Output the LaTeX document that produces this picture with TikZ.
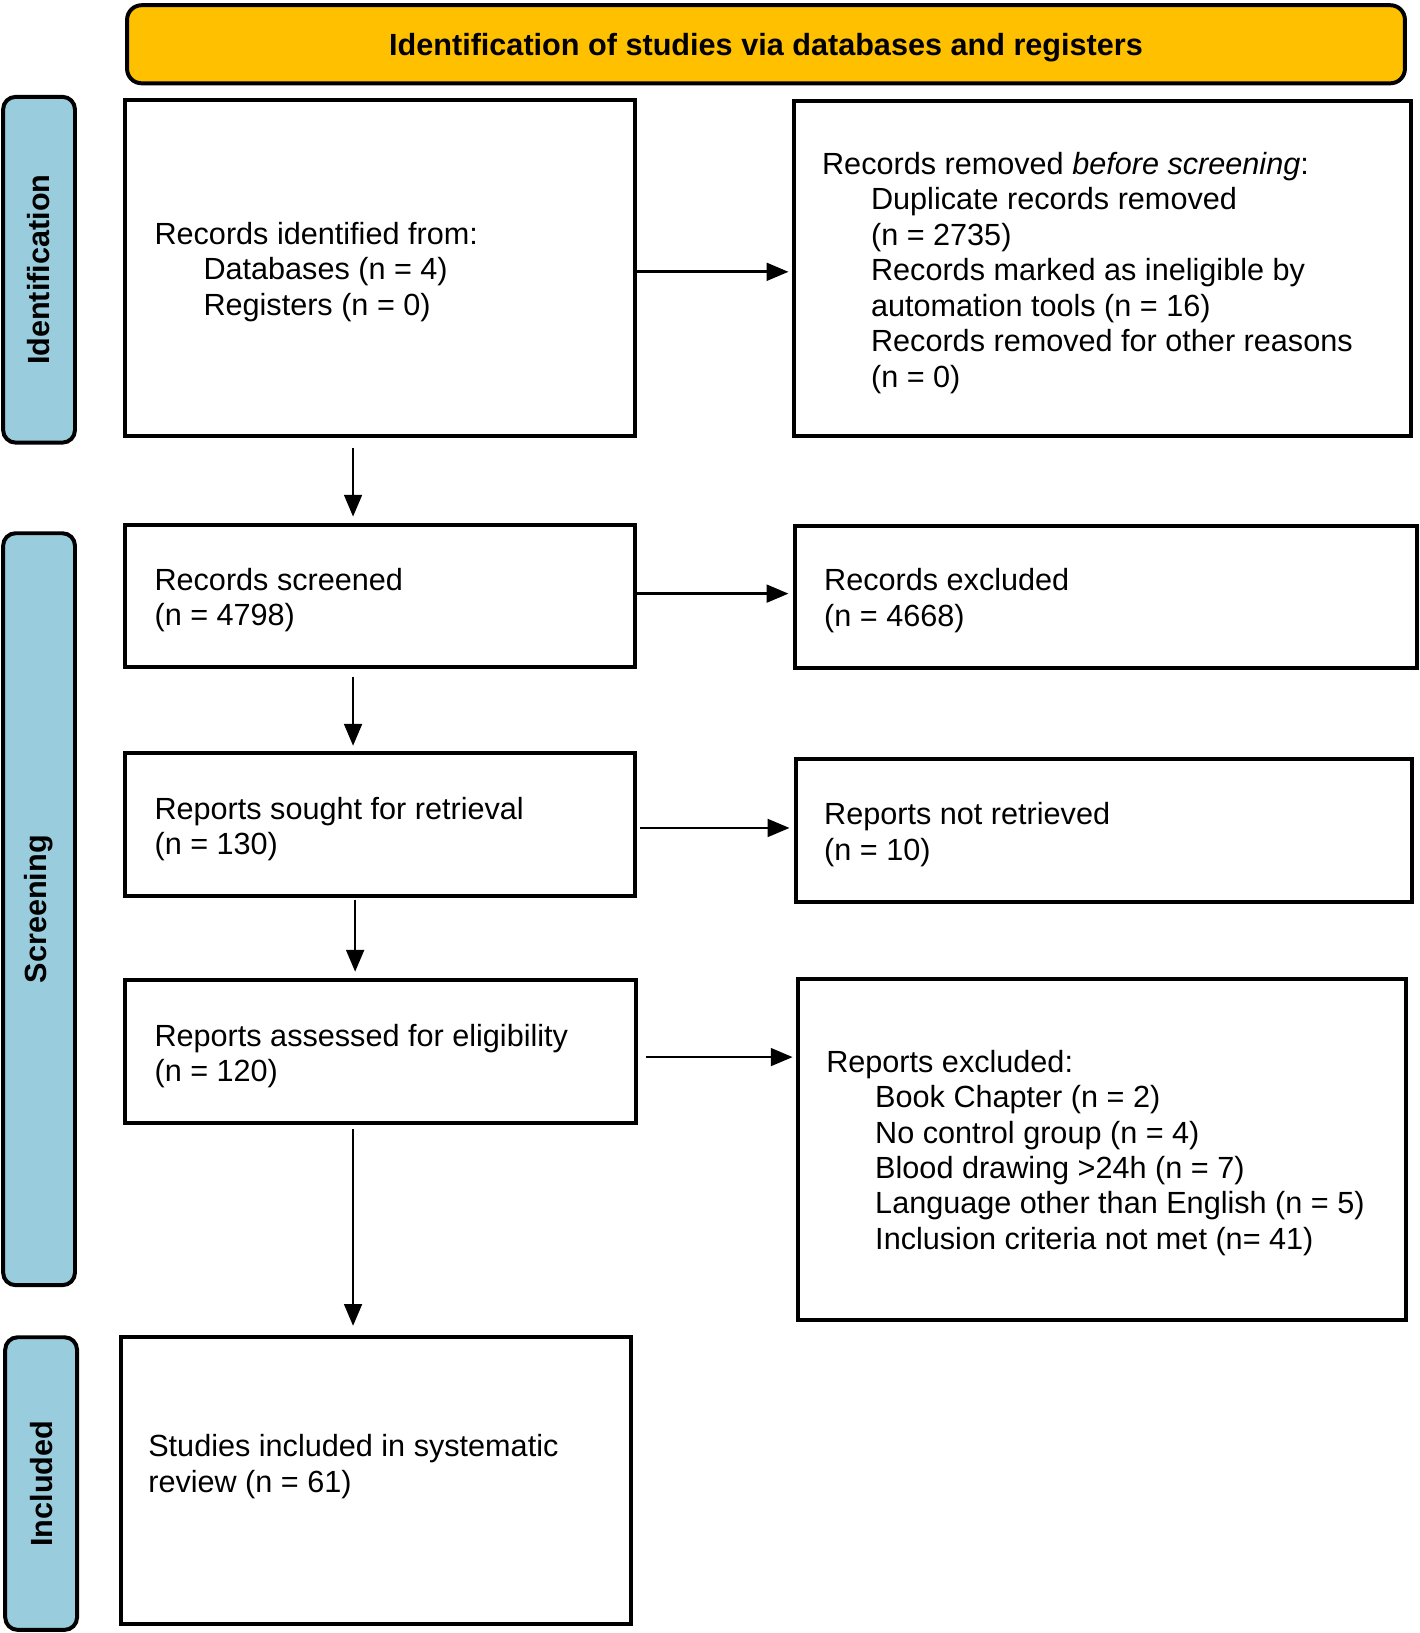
\documentclass[tikz,border=0pt]{standalone}
\usepackage{fontspec}
\setmainfont{Liberation Sans}
\usetikzlibrary{arrows.meta,fit,calc}
\definecolor{hdr}{HTML}{FFC000}
\definecolor{side}{RGB}{153,204,221}
\begin{document}
\begin{tikzpicture}[x=0.5pt,y=-0.5pt,
  box/.style={draw,line width=1.9pt,inner sep=0pt},
  bar/.style={draw,line width=1.9pt,fill=side,rounded corners=6pt,inner sep=0pt},
  hdrbox/.style={draw,line width=1.9pt,fill=hdr,rounded corners=7pt,inner sep=0pt},
  txt/.style={anchor=west,align=left,inner sep=0pt,yshift=-1.5pt,font=\fontsize{14.7}{17}\selectfont},
  sidetxt/.style={rotate=90,inner sep=0pt,font=\fontsize{14.7}{17}\selectfont\bfseries},
  hdrtxt/.style={inner sep=0pt,yshift=-1.5pt,font=\fontsize{14.7}{17}\selectfont\bfseries},
  arr/.style={-{Triangle[length=10.5pt,width=8.5pt]},line width=1.3pt}
]
\useasboundingbox (0,0) rectangle (1363,1568);
\newcommand{\ind}{\hspace*{23.5pt}}
% header
\node[hdrbox,fit={(122,5) (1349,80)}] (hdr) {};
\node[hdrtxt] (hdrt) at (hdr.center) {Identification of studies via databases and registers};
% side bars
\node[bar,fit={(3,93) (72,425)}] (idbar) {};
\node[sidetxt] (idtxt) at (idbar.center) {Identification};
\node[bar,fit={(3,512) (72,1234)}] (scbar) {};
\node[sidetxt] (sctxt) at (scbar.center) {Screening};
\node[bar,fit={(5,1284) (74,1565)}] (inbar) {};
\node[sidetxt] (intxt) at (inbar.center) {Included};
% boxes
\node[box,fit={(120,96) (610,419)}] (b1) {};
\node[box,fit={(762,97) (1355,419)}] (b2) {};
\node[box,fit={(120,504) (610,640)}] (b3) {};
\node[box,fit={(763,505) (1361,641)}] (b4) {};
\node[box,fit={(120,723) (610,860)}] (b5) {};
\node[box,fit={(764,729) (1356,866)}] (b6) {};
\node[box,fit={(120,941) (611,1078)}] (b7) {};
\node[box,fit={(766,940) (1350,1267)}] (b8) {};
\node[box,fit={(116,1284) (606,1559)}] (b9) {};
% texts
\node[txt] (t1) at (148,258) {Records identified from:\\\ind Databases (n = 4)\\\ind Registers (n = 0)};
\node[txt] (t2) at (789,259) {Records removed \textit{before screening}:\\\ind Duplicate records removed\\\ind (n = 2735)\\\ind Records marked as ineligible by\\\ind automation tools (n = 16)\\\ind Records removed for other reasons\\\ind (n = 0)};
\node[txt] (t3) at (148,573) {Records screened\\(n = 4798)};
\node[txt] (t4) at (791,573.5) {Records excluded\\(n = 4668)};
\node[txt] (t5) at (148,793) {Reports sought for retrieval\\(n = 130)};
\node[txt] (t6) at (791,798.5) {Reports not retrieved\\(n = 10)};
\node[txt] (t7) at (148,1011) {Reports assessed for eligibility\\(n = 120)};
\node[txt] (t8) at (793,1104) {Reports excluded:\\\ind Book Chapter (n = 2)\\\ind No control group (n = 4)\\\ind Blood drawing >24h (n = 7)\\\ind Language other than English (n = 5)\\\ind Inclusion criteria not met (n= 41)};
\node[txt] (t9) at (142,1405) {Studies included in systematic\\review (n = 61)};
% arrow helper coordinates
\coordinate (h1) at (0,261);
\coordinate (h2) at (0,570);
\coordinate (h3) at (0,795);
\coordinate (h4) at (0,1015);
\coordinate (v1) at (339,0);
\coordinate (v2) at (341,0);
% horizontal arrows
\draw[arr,shorten >=1.5pt] (b1.east |- h1) -- (b2.west |- h1);
\draw[arr,shorten >=2pt] (b3.east |- h2) -- (b4.west |- h2);
\draw[arr,shorten <=1.5pt,shorten >=2pt] (b5.east |- h3) -- (b6.west |- h3);
\draw[arr,shorten <=3.5pt,shorten >=1.5pt] (b7.east |- h4) -- (b8.west |- h4);
% vertical arrows
\draw[arr,shorten <=4.5pt,shorten >=3pt] (b1.south -| v1) -- (b3.north -| v1);
\draw[arr,shorten <=4pt,shorten >=2.5pt] (b3.south -| v1) -- (b5.north -| v1);
\draw[arr,shorten <=1pt,shorten >=3pt] (b5.south -| v2) -- (b7.north -| v2);
\draw[arr,shorten <=2pt,shorten >=4.5pt] (b7.south -| v1) -- (b9.north -| v1);
\end{tikzpicture}
\end{document}
